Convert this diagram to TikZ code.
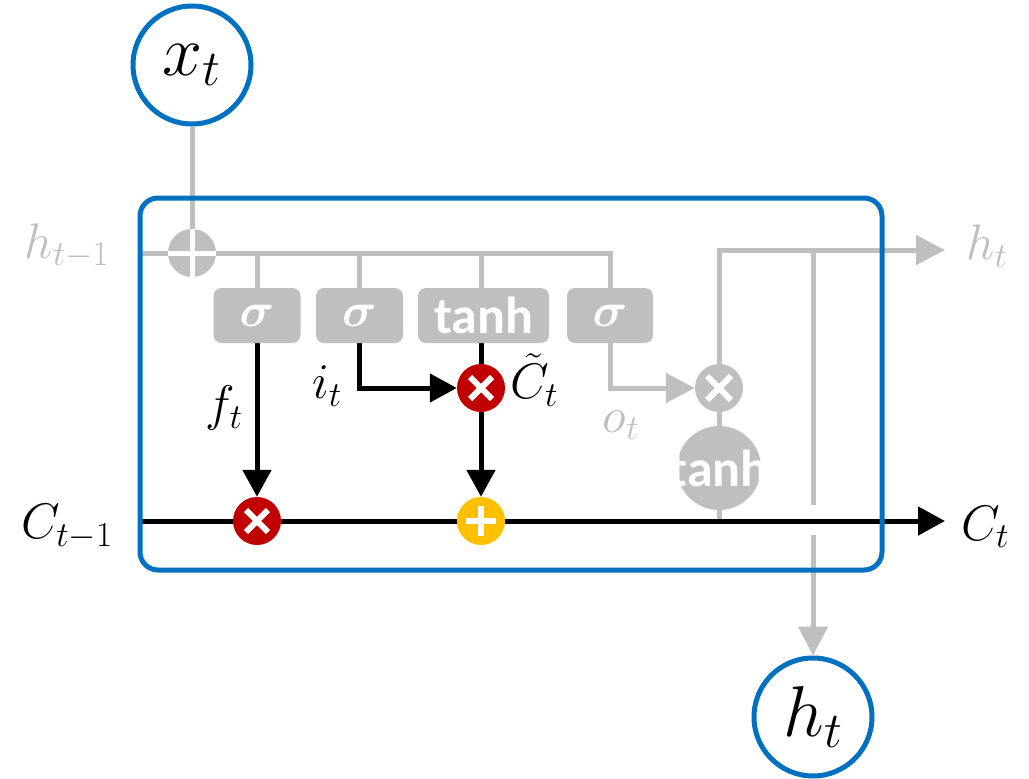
\RequirePackage{fix-cm}
\documentclass[tikz,border=0pt]{standalone}
\usepackage{fontspec}
\usepackage{amsmath,bm}
\newfontfamily\carlito{Carlito}
\usetikzlibrary{arrows.meta}
\definecolor{lgray}{HTML}{BFBFBF}
\definecolor{myblue}{HTML}{0070C0}
\definecolor{myred}{HTML}{C00000}
\definecolor{myyellow}{HTML}{FFC000}
\pgfdeclarelayer{background}
\pgfsetlayers{background,main}
\tikzset{
  gline/.style={draw=lgray,line width=5pt},
  bline/.style={draw=black,line width=5pt},
  garrow/.style={gline,-{Triangle[length=29pt,width=29pt]}},
  barrow/.style={bline,-{Triangle[length=27pt,width=28pt]}},
  gbox/.style={fill=lgray,rounded corners=8pt,minimum height=55pt,inner sep=0pt,text=white},
  opc/.style={circle,minimum size=48pt,inner sep=0pt},
  io/.style={circle,draw=myblue,line width=5pt,fill=white,minimum size=118pt,inner sep=0pt},
  lbl/.style={inner sep=0pt,font=\fontsize{50}{50}\selectfont},
  tnh/.style={font=\carlito\bfseries\fontsize{52}{52}\selectfont},
  sym/.style={white,line width=6pt}
}
\begin{document}
\begin{tikzpicture}[x=1pt,y=-1pt]
\useasboundingbox (0,0) rectangle (1029,779);
% input/output circles
\node[io] (x) at (192,65) {\fontsize{72}{72}\selectfont$x_t$};
\node[io] (hc) at (813,717) {\fontsize{72}{72}\selectfont$h_t$};
% gate boxes
\node[gbox,minimum width=87pt] (sf) at (257,315.5) {\fontsize{48}{48}\selectfont$\bm{\sigma}$};
\node[gbox,minimum width=87pt] (si) at (359.5,315.5) {\fontsize{48}{48}\selectfont$\bm{\sigma}$};
\node[gbox,minimum width=131pt,tnh] (st) at (483.5,315.5) {tanh};
\node[gbox,minimum width=86pt] (so) at (610,315.5) {\fontsize{48}{48}\selectfont$\bm{\sigma}$};
% operators
\node[opc,fill=lgray] (p0) at (192,253) {};
\node[opc,fill=myred] (m1) at (257,521) {};
\node[opc,fill=myyellow] (a1) at (481,521) {};
\node[opc,fill=myred] (m2) at (481,388) {};
\node[opc,fill=lgray] (mo) at (719,388) {};
\node[circle,fill=lgray,minimum size=84pt,inner sep=0pt] (th) at (719,468) {};
\node[tnh,text=white] (thl) at (th) {tanh};
% symbols
\draw[sym,line width=5pt] (p0.north) -- (p0.south) (p0.west) -- (p0.east);
\draw[sym] (m1) +(-11,-11) -- +(11,11) (m1) +(-11,11) -- +(11,-11);
\draw[sym] (m2) +(-11,-11) -- +(11,11) (m2) +(-11,11) -- +(11,-11);
\draw[sym] (mo) +(-12,-12) -- +(12,12) (mo) +(-12,12) -- +(12,-12);
\draw[sym] (a1) +(0,-15) -- +(0,15) (a1) +(-15,0) -- +(15,0);
% coordinates
\coordinate (hin) at (142,253);
\coordinate (cin) at (142,521);
\coordinate (cout) at (945,521);
\coordinate (hout) at (945,250);
\coordinate (vtop) at (813,250);
\coordinate (vgap1) at (813,505);
\coordinate (vgap2) at (813,535);
% labels
\node[lbl,text=lgray] (lhin) at (67,246) {$h_{t-1}$};
\node[lbl] (lcin) at (67,527) {$C_{t-1}$};
\node[lbl] (lf) at (224,408) {$f_t$};
\node[lbl] (li) at (327,386) {$i_t$};
\node[lbl,anchor=west] (lc) at (510,380) {$\tilde{C}_t$};
\node[lbl,text=lgray] (lo) at (621,425) {$o_t$};
\node[lbl,text=lgray] (lhout) at (987,246) {$h_t$};
\node[lbl] (lcout) at (985,527) {$C_t$};
\begin{pgfonlayer}{background}
\draw[gline] (x.south) -- (p0.north);
\draw[gline] (hin) -- (p0.west);
\draw[gline] (p0.east) -- (so.north |- p0) -- (so.north);
\draw[gline] (sf.north |- p0) -- (sf.north);
\draw[gline] (si.north |- p0) -- (si.north);
\draw[gline] (m2 |- p0) -- (m2 |- st.north);
\draw[barrow] (sf.south) -- (m1.north);
\draw[barrow] (si.south) |- (m2.west);
\draw[bline] (m2 |- st.south) -- (m2.north);
\draw[barrow] (m2.south) -- (a1.north);
\draw[garrow] (so.south) |- (mo.west);
\draw[gline] (th.north) -- (mo.south);
\draw[gline] (th.south) -- (th |- cin);
\draw[garrow] (mo.north) |- (hout);
\draw[gline] (vtop) -- (vgap1);
\draw[garrow] (vgap2) -- (hc.north);
\draw[barrow] (cin) -- (cout);
\end{pgfonlayer}
% cell frame
\node[draw=myblue,line width=5pt,rounded corners=18pt,minimum width=742pt,minimum height=372pt,inner sep=0pt] (cell) at (511,384) {};
\end{tikzpicture}
\end{document}
